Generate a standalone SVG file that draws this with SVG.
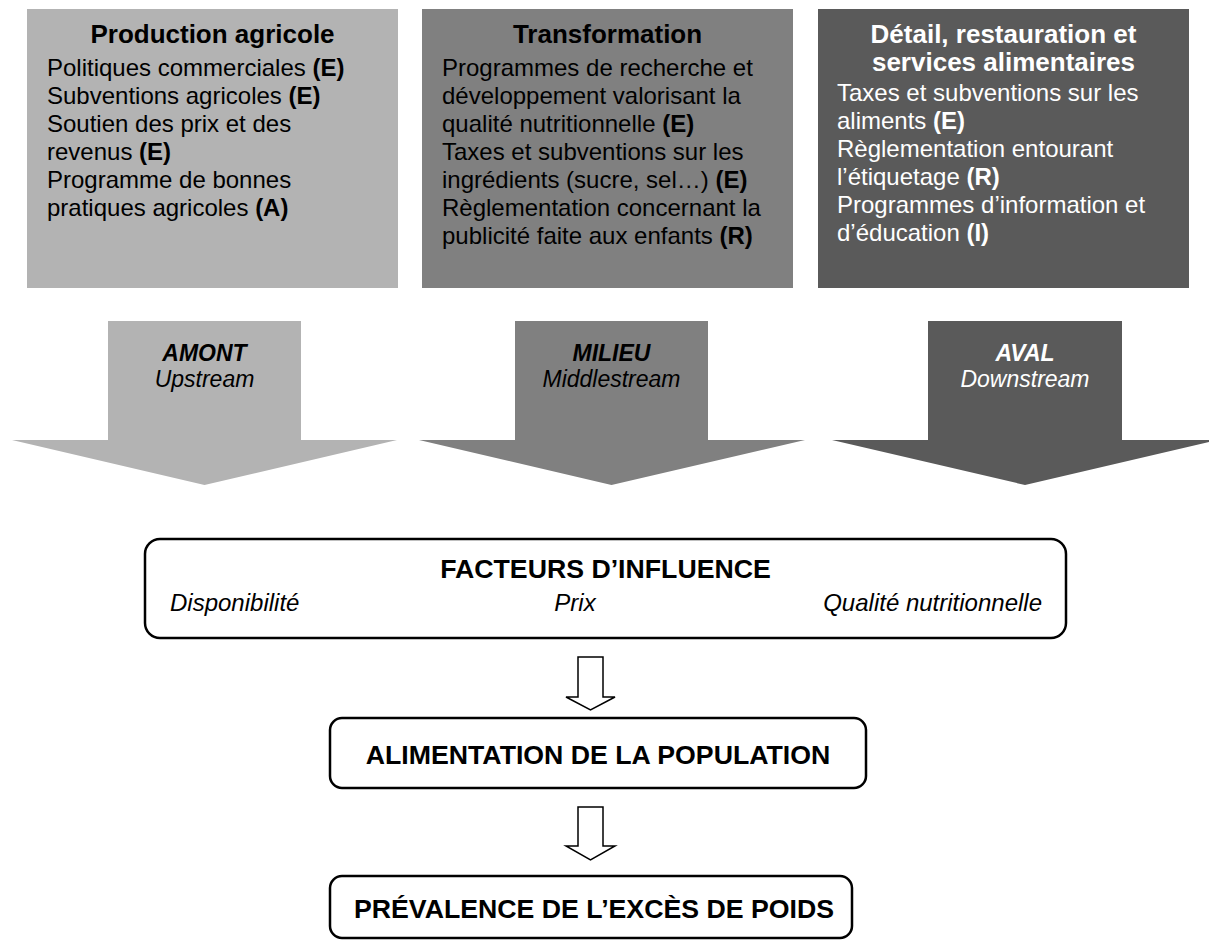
<svg xmlns="http://www.w3.org/2000/svg" width="1209" height="941" viewBox="0 0 1209 941">
<style>
text{font-family:"Liberation Sans",Arial,sans-serif;}
.t{font-size:26px;font-weight:bold;text-anchor:middle;}
.b{font-size:24px;}
.b tspan.k{font-weight:bold;}
.w{fill:#fff;}
.c1{fill:#b3b3b3;}
.c2{fill:#808080;}
.c3{fill:#5a5a5a;}
.ah1{font-size:23px;font-weight:bold;font-style:italic;text-anchor:middle;}
.ah2{font-size:23px;font-style:italic;text-anchor:middle;}
.box{fill:#fff;stroke:#000;stroke-width:2.5;}
.big{font-size:26.7px;font-weight:bold;text-anchor:middle;}
.it{font-size:24px;font-style:italic;}
.hollow{fill:#fff;stroke:#000;stroke-width:1.5;stroke-linejoin:miter;}
</style>

<g id="production">
<rect class="c1" x="27" y="9" width="371" height="279"/>
<text class="t" x="212.5" y="43">Production agricole</text>
<text class="b" x="47" y="76">Politiques commerciales <tspan class="k">(E)</tspan></text>
<text class="b" x="47" y="104">Subventions agricoles <tspan class="k">(E)</tspan></text>
<text class="b" x="47" y="132">Soutien des prix et des</text>
<text class="b" x="47" y="160">revenus <tspan class="k">(E)</tspan></text>
<text class="b" x="47" y="188">Programme de bonnes</text>
<text class="b" x="47" y="216">pratiques agricoles <tspan class="k">(A)</tspan></text>
</g>

<g id="transformation">
<rect class="c2" x="422" y="9" width="371" height="279"/>
<text class="t" x="607.5" y="43">Transformation</text>
<text class="b" x="442" y="76">Programmes de recherche et</text>
<text class="b" x="442" y="104">développement valorisant la</text>
<text class="b" x="442" y="132">qualité nutritionnelle <tspan class="k">(E)</tspan></text>
<text class="b" x="442" y="160">Taxes et subventions sur les</text>
<text class="b" x="442" y="188">ingrédients (sucre, sel…) <tspan class="k">(E)</tspan></text>
<text class="b" x="442" y="216">Règlementation concernant la</text>
<text class="b" x="442" y="244">publicité faite aux enfants <tspan class="k">(R)</tspan></text>
</g>

<g id="detail">
<rect class="c3" x="818" y="9" width="371" height="279"/>
<text class="t w" x="1003.5" y="43">Détail, restauration et</text>
<text class="t w" x="1003.5" y="71">services alimentaires</text>
<text class="b w" x="837" y="101">Taxes et subventions sur les</text>
<text class="b w" x="837" y="129">aliments <tspan class="k">(E)</tspan></text>
<text class="b w" x="837" y="157">Règlementation entourant</text>
<text class="b w" x="837" y="185">l’étiquetage <tspan class="k">(R)</tspan></text>
<text class="b w" x="837" y="213">Programmes d’information et</text>
<text class="b w" x="837" y="241">d’éducation <tspan class="k">(I)</tspan></text>
</g>

<g id="amont">
<polygon class="c1" points="108,321 301,321 301,440 397,440 204.5,485 12,440 108,440"/>
<text class="ah1" x="204.5" y="361">AMONT</text>
<text class="ah2" x="204.5" y="387">Upstream</text>
</g>

<g id="milieu">
<polygon class="c2" points="515,321 708,321 708,440 805,440 611.5,485 419,440 515,440"/>
<text class="ah1" x="611.5" y="361">MILIEU</text>
<text class="ah2" x="611.5" y="387">Middlestream</text>
</g>

<g id="aval">
<polygon class="c3" points="928,321 1122,321 1122,440 1218,440 1025,485 832,440 928,440"/>
<text class="ah1 w" x="1025" y="361">AVAL</text>
<text class="ah2 w" x="1025" y="387">Downstream</text>
</g>

<g id="facteurs">
<rect class="box" x="145" y="539" width="921" height="99" rx="15" ry="15"/>
<text class="big" x="605.5" y="578">FACTEURS D’INFLUENCE</text>
<text class="it" x="170" y="611">Disponibilité</text>
<text class="it" x="575" y="611" text-anchor="middle">Prix</text>
<text class="it" x="1042" y="611" text-anchor="end">Qualité nutritionnelle</text>
</g>

<g id="alimentation">
<rect class="box" x="330" y="718" width="536" height="70" rx="12" ry="12"/>
<text class="big" x="598" y="764">ALIMENTATION DE LA POPULATION</text>
</g>

<g id="prevalence">
<rect class="box" x="330" y="876" width="522" height="62" rx="12" ry="12"/>
<text class="big" x="594" y="918">PRÉVALENCE DE L’EXCÈS DE POIDS</text>
</g>

<g id="connectors">
<polygon class="hollow" points="578,657 603,657 603,697 615,697 590.5,710 566,697 578,697"/>
<polygon class="hollow" points="578,807 603,807 603,846 615,846 590.5,860 566,846 578,846"/>
</g>
</svg>
